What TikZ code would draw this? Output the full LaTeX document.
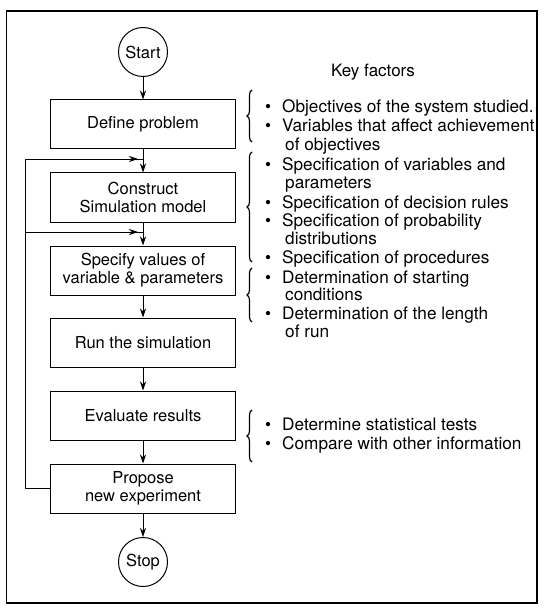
\documentclass[tikz,border=0pt]{standalone}
\usepackage{fontspec}
\setmainfont{TeX Gyre Heros}
\usetikzlibrary{arrows.meta,decorations.pathreplacing}
\begin{document}
\begin{tikzpicture}[x=1pt,y=-1pt,
  box/.style={draw,line width=1pt,minimum width=185pt,minimum height=49pt,align=center,inner sep=0pt,font=\fontsize{16.5}{18}\selectfont},
  term/.style={draw,circle,line width=1pt,minimum size=49pt,inner sep=0pt,font=\fontsize{16.5}{18}\selectfont},
  conn/.style={line width=0.9pt},
  arr/.style={line width=0.9pt,-{Stealth[length=9pt,width=6pt]}},
  item/.style={anchor=base west,inner sep=0pt,font=\fontsize{17.2}{18.5}\selectfont},
  brc/.style={decorate,decoration={brace,amplitude=5pt,mirror},line width=1.2pt}]
\useasboundingbox (0,0) rectangle (547,612);
\draw[line width=1.2pt] (6.5,11) rectangle (537,603);

% flow
\node[term] (start) at (143,52) {Start};
\node[box] (define) at (143,124.5) {Define problem};
\node[box] (construct) at (143,197.5) {Construct\\Simulation model};
\node[box] (specify) at (143,270.5) {Specify values of\\variable \& parameters};
\node[box] (run) at (143,342.5) {Run the simulation};
\node[box] (evaluate) at (143,415.5) {Evaluate results};
\node[box] (propose) at (143,488.5) {Propose\\new experiment};
\node[term] (stop) at (143,562) {Stop};

\draw[arr] (start) -- (define);
\draw[arr] (define) -- (construct);
\draw[arr] (construct) -- (specify);
\draw[arr] (specify) -- (run);
\draw[arr] (run) -- (evaluate);
\draw[arr] (evaluate) -- (propose);
\draw[arr] (propose) -- (stop);

% feedback
\coordinate (fb1) at (143,159);
\coordinate (fb2) at (143,232);
\coordinate (fbl1) at (25,159);
\coordinate (fbl2) at (25,232);
\draw[conn] (propose.west) -| (fbl1);
\draw[conn] (fbl1) -- (fb1);
\draw[conn] (fbl2) -- (fb2);
\draw[arr,shorten >=5pt] (fbl1) -- (fb1);
\draw[arr,shorten >=5pt] (fbl2) -- (fb2);

% key factors
\node[font=\fontsize{17}{18}\selectfont] (kf) at (373,72) {Key factors};

\draw[brc] (252,90) -- (252,142);
\draw[brc] (252,152) -- (252,262);
\draw[brc] (252,268) -- (252,322);
\draw[brc] (252,410) -- (252,462);

\node[item] (a1) at (265,113) {\makebox[17pt][l]{\textbullet}Objectives of the system studied.};
\node[item] (a2) at (265,132) {\makebox[17pt][l]{\textbullet}Variables that affect achievement};
\node[item] (a2b) at (285,151) {of objectives};
\node[item] (b1) at (265,171) {\makebox[17pt][l]{\textbullet}Specification of variables and};
\node[item] (b1b) at (285,189) {parameters};
\node[item] (b2) at (265,208) {\makebox[17pt][l]{\textbullet}Specification of decision rules};
\node[item] (b3) at (265,226) {\makebox[17pt][l]{\textbullet}Specification of probability};
\node[item] (b3b) at (285,244) {distributions};
\node[item] (b4) at (265,263) {\makebox[17pt][l]{\textbullet}Specification of procedures};
\node[item] (c1) at (265,283) {\makebox[17pt][l]{\textbullet}Determination of starting};
\node[item] (c1b) at (285,300) {conditions};
\node[item] (c2) at (265,319) {\makebox[17pt][l]{\textbullet}Determination of the length};
\node[item] (c2b) at (285,337) {of run};
\node[item] (d1) at (265,430) {\makebox[17pt][l]{\textbullet}Determine statistical tests};
\node[item] (d2) at (265,449) {\makebox[17pt][l]{\textbullet}Compare with other information};
\end{tikzpicture}
\end{document}
